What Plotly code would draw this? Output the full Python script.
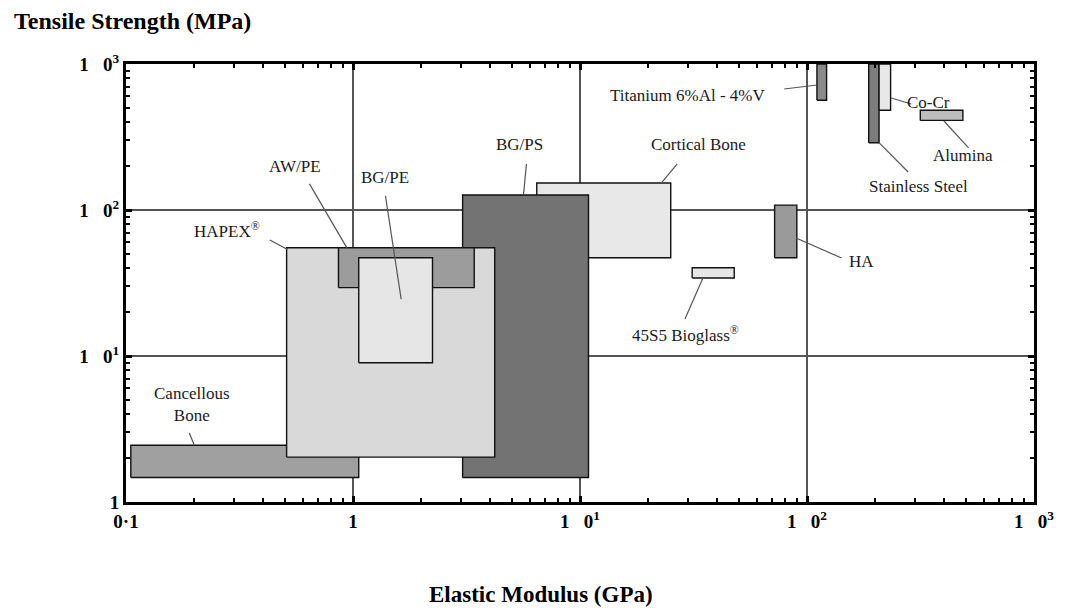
import numpy as np
import plotly.graph_objects as go

# ---------------- data ----------------
materials = ["Cortical Bone", "BG/PS", "Cancellous Bone", "HAPEX", "AW/PE", "BG/PE",
             "45S5 Bioglass", "HA", "Titanium 6%Al - 4%V", "Stainless Steel", "Co-Cr", "Alumina"]
modulus_min = [6.45, 3.04, 0.105, 0.51, 0.863, 1.06, 31.2, 72.0, 110.6, 187.0, 207.7, 315.6]
modulus_max = [25.1, 10.9, 1.06, 4.21, 3.42, 2.24, 47.8, 90.2, 122.0, 207.7, 233.5, 486.0]
strength_min = [47.1, 1.47, 1.47, 2.03, 29.4, 9.0, 34.2, 47.1, 564.0, 289.0, 482.0, 411.0]
strength_max = [153.0, 126.7, 2.45, 55.2, 55.2, 47.1, 40.2, 108.0, 1000.0, 1000.0, 1000.0, 482.0]
fill_colors = ["#e8e8e8", "#737373", "#a0a0a0", "#d9d9d9", "#9c9c9c", "#e6e6e6",
               "#e6e6e6", "#9a9a9a", "#8a8a8a", "#7d7d7d", "#e8e8e8", "#bdbdbd"]

# labels (text, position in data units)
label_text = ["Cortical Bone", "BG/PS", "Cancellous<br>Bone", "HAPEX<sup>®</sup>", "AW/PE", "BG/PE",
              "45S5 Bioglass<sup>®</sup>", "HA", "Titanium 6%Al - 4%V", "Stainless Steel", "Co-Cr", "Alumina"]
label_x = [33.4, 5.42, 0.196, 0.279, 0.553, 1.38, 29.3, 174.0, 29.9, 311.0, 344.0, 485.0]
label_y = [279.0, 279.0, 4.62, 72.9, 200.0, 168.0, 14.2, 44.7, 604.0, 146.0, 549.0, 238.0]

# leader lines (head on the box, tail near the label), data units
lead_head_x = [22.8, 5.64, 0.20, 0.51, 0.94, 1.63, 34.8, 89.5, 110.6, 208.0, 235.0, 401.0]
lead_head_y = [153.0, 128.0, 2.45, 54.0, 55.0, 24.5, 34.2, 64.3, 718.0, 288.0, 585.0, 407.0]
lead_tail_x = [26.8, 5.81, 0.19, 0.43, 0.643, 1.39, 29.0, 142.0, 79.4, 279.0, 288.0, 515.0]
lead_tail_y = [207.0, 207.0, 2.97, 62.3, 151.0, 125.0, 17.9, 46.9, 674.0, 182.0, 532.0, 266.0]

GAP = "\u00a0\u00a0\u00a0"
x_tickvals = [0.1, 1, 10, 100, 1000]
x_ticktext = ["0·1", "1", "1" + GAP + "0<sup>1</sup>", "1" + GAP + "0<sup>2</sup>", "1" + GAP + "0<sup>3</sup>"]
y_tickvals = [1, 10, 100, 1000]
y_ticktext = ["1", "1" + GAP + "0<sup>1</sup>", "1" + GAP + "0<sup>2</sup>", "1" + GAP + "0<sup>3</sup>"]

FONT = "Liberation Serif, Times New Roman, serif"

fig = go.Figure()

for i, name in enumerate(materials):
    x0, x1 = modulus_min[i], modulus_max[i]
    y0, y1 = strength_min[i], strength_max[i]
    fig.add_trace(go.Scatter(
        x=[x0, x1, x1, x0, x0], y=[y0, y0, y1, y1, y0],
        mode="lines", fill="toself", fillcolor=fill_colors[i],
        line=dict(color="#111111", width=1.4),
        name=name, hoverinfo="name", showlegend=False))

for i in range(len(lead_head_x)):
    fig.add_trace(go.Scatter(
        x=[lead_tail_x[i], lead_head_x[i]], y=[lead_tail_y[i], lead_head_y[i]],
        mode="lines", line=dict(color="#555555", width=1.2),
        hoverinfo="skip", showlegend=False))

annotations = []
for t, lx, ly in zip(label_text, label_x, label_y):
    annotations.append(dict(
        x=np.log10(lx), y=np.log10(ly), xref="x", yref="y", text=t,
        showarrow=False, font=dict(family=FONT, size=17, color="#1a1a1a")))

annotations.append(dict(
    x=-0.1255, y=1.098, xref="paper", yref="paper", xanchor="left", yanchor="middle",
    text="<b>Tensile Strength (MPa)</b>", showarrow=False,
    font=dict(family=FONT, size=24, color="#000000")))
annotations.append(dict(
    x=0.457, y=-0.212, xref="paper", yref="paper", xanchor="center", yanchor="middle",
    text="<b>Elastic Modulus (GPa)</b>", showarrow=False,
    font=dict(family=FONT, size=23, color="#000000")))

x_minor = [m * 10.0 ** d for d in range(-1, 3) for m in range(2, 10)]
y_minor = [m * 10.0 ** d for d in range(0, 3) for m in range(2, 10)]

axis_common = dict(
    type="log", showline=True, linecolor="#000000", linewidth=3, mirror="allticks",
    ticks="inside", ticklen=6, tickwidth=3, tickcolor="#000000",
    showgrid=True, gridcolor="#555555", gridwidth=1.5, zeroline=False,
    tickfont=dict(family=FONT, size=19, color="#000000"),
)

fig.update_layout(
    width=1058, height=604,
    margin=dict(l=118, r=24, t=56, b=110),
    paper_bgcolor="white", plot_bgcolor="white",
    annotations=annotations,
    xaxis=dict(axis_common, range=[-1, 3], tickmode="array", tickvals=x_tickvals,
               ticktext=["<b>%s</b>" % t for t in x_ticktext],
               minor=dict(tickmode="array", tickvals=x_minor, ticks="inside",
                          ticklen=4, tickwidth=2, tickcolor="#000000", showgrid=False)),
    yaxis=dict(axis_common, range=[0, 3], tickmode="array", tickvals=y_tickvals,
               ticktext=["<b>%s</b>" % t for t in y_ticktext],
               minor=dict(tickmode="array", tickvals=y_minor, ticks="inside",
                          ticklen=4, tickwidth=2, tickcolor="#000000", showgrid=False)),
)

fig.write_html("out.html")
